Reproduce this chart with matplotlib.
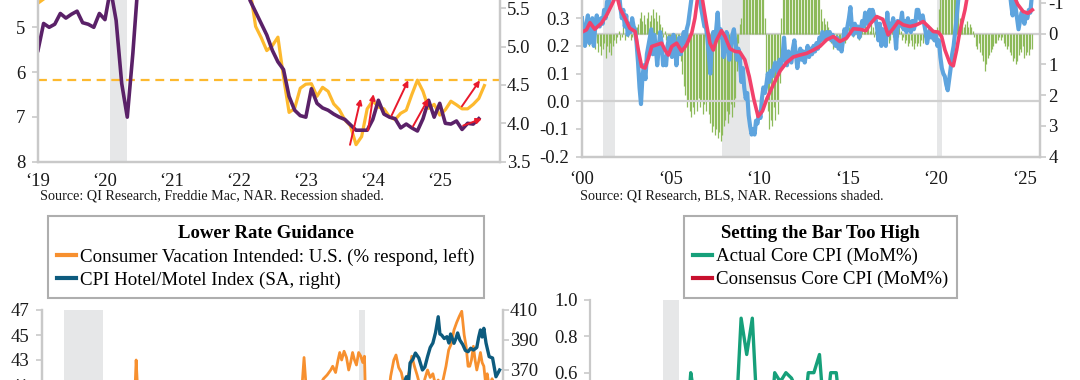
import numpy as np
import matplotlib
matplotlib.use("Agg")
import matplotlib.pyplot as plt

plt.rcParams['font.family'] = ['Liberation Serif', 'DejaVu Serif']
plt.rcParams['axes.unicode_minus'] = False

W, H = 1080, 380

# ---------------- top left: mortgage rate vs existing home sales ----------------
tl_months = np.arange(2019, 2025.75, 1 / 12)
mort_rate = [4.46, 4.37, 4.27, 4.14, 4.07, 3.80, 3.77, 3.62, 3.61, 3.69, 3.70, 3.72,
             3.62, 3.47, 3.45, 3.31, 3.23, 3.16, 3.02, 2.94, 2.89, 2.83, 2.77, 2.68,
             2.74, 2.81, 3.08, 3.06, 2.96, 2.98, 2.87, 2.84, 2.90, 3.07, 3.07, 3.10,
             3.45, 3.76, 4.17, 4.98, 5.23, 5.52, 5.41, 5.22, 6.11, 6.90, 6.81, 6.36,
             6.27, 6.26, 6.54, 6.34, 6.43, 6.71, 6.84, 7.07, 7.20, 7.62, 7.44, 6.82,
             6.64, 6.78, 6.82, 7.00, 7.06, 6.92, 6.85, 6.50, 6.18, 6.43, 6.81, 6.72,
             6.96, 6.84, 6.65, 6.73, 6.82, 6.82, 6.72, 6.59, 6.30]
home_sales = [4.95, 5.30, 5.25, 5.29, 5.43, 5.37, 5.42, 5.46, 5.31, 5.29, 5.25, 5.43,
              5.35, 5.75, 5.34, 4.52, 4.08, 4.91, 5.90, 6.00, 6.50, 6.85, 6.70, 6.75,
              6.65, 6.20, 6.00, 5.85, 5.80, 5.86, 6.00, 5.90, 6.30, 6.30, 6.45, 6.20,
              6.40, 6.00, 5.60, 5.45, 5.30, 5.15, 4.95, 4.80, 4.70, 4.35, 4.17, 4.10,
              4.08, 4.45, 4.26, 4.20, 4.17, 4.12, 4.08, 4.05, 3.98, 3.91, 3.91, 3.91,
              4.05, 4.30, 4.12, 4.08, 4.06, 3.94, 3.99, 3.94, 3.90, 4.06, 4.30, 4.08,
              4.26, 4.00, 3.99, 4.03, 3.92, 4.00, 3.99, 4.06]
rate_ref = 6.18
# (start year, start sales) -> (end year, end sales)
arrows = [((2023.66, 3.72), (2023.82, 4.32)),
          ((2023.93, 3.91), (2024.01, 4.38)),
          ((2024.28, 4.10), (2024.53, 4.56)),
          ((2024.60, 3.96), (2024.83, 4.32)),
          ((2025.33, 4.22), (2025.60, 4.56)),
          ((2025.35, 3.97), (2025.63, 4.06))]
tl_years = list(range(2019, 2026))
tl_left_ticks = [5, 6, 7, 8]
tl_right_ticks = [3.5, 4.0, 4.5, 5.0, 5.5]

# ---------------- top right ----------------
tr_months = np.arange(2000, 2025.5, 1 / 12)
tr_blue = [0.30, 0.22, 0.20, 0.28, 0.31, 0.21, 0.26, 0.30, 0.20, 0.27, 0.31, 0.28,
           0.27, 0.30, 0.28, 0.33, 0.30, 0.36, 0.34, 0.38, 0.40, 0.37, 0.42, 0.45,
           0.42, 0.40, 0.34, 0.30, 0.33, 0.27, 0.31, 0.24, 0.28, 0.25, 0.30, 0.27,
           0.26, 0.21, 0.14, 0.05, -0.01, 0.09, 0.13, 0.08, 0.17, 0.20, 0.23, 0.26,
           0.17, 0.24, 0.20, 0.13, 0.19, 0.25, 0.21, 0.13, 0.16, 0.13, 0.20, 0.23,
           0.19, 0.16, 0.24, 0.21, 0.13, 0.19, 0.23, 0.17, 0.22, 0.25, 0.21, 0.26,
           0.28, 0.32, 0.36, 0.41, 0.44, 0.47, 0.43, 0.40, 0.36, 0.33, 0.30, 0.27,
           0.27, 0.23, 0.17, 0.10, 0.20, 0.25, 0.22, 0.26, 0.32, 0.23, 0.26, 0.24,
           0.16, 0.22, 0.25, 0.18, 0.15, 0.20, 0.24, 0.26, 0.21, 0.15, 0.19, 0.16,
           0.07, 0.12, 0.05, 0.01, 0.03, -0.05, -0.09, -0.12, -0.10, -0.12, -0.07, -0.08,
           -0.04, -0.06, 0.01, 0.05, 0.03, 0.06, 0.10, 0.07, 0.11, 0.09, 0.12, 0.14,
           0.12, 0.10, 0.15, 0.13, 0.16, 0.23, 0.15, 0.13, 0.18, 0.16, 0.14, 0.19,
           0.22, 0.17, 0.12, 0.16, 0.19, 0.15, 0.18, 0.14, 0.17, 0.20, 0.16, 0.19,
           0.17, 0.20, 0.18, 0.21, 0.19, 0.23, 0.22, 0.25, 0.24, 0.22, 0.25, 0.23,
           0.25, 0.22, 0.24, 0.21, 0.20, 0.23, 0.19, 0.21, 0.18, 0.22, 0.26, 0.24,
           0.27, 0.30, 0.34, 0.27, 0.24, 0.28, 0.25, 0.27, 0.23, 0.26, 0.29, 0.27,
           0.32, 0.28, 0.30, 0.33, 0.29, 0.33, 0.31, 0.30, 0.27, 0.22, 0.28, 0.20,
           0.26, 0.22, 0.20, 0.32, 0.24, 0.28, 0.27, 0.30, 0.26, 0.19, 0.29, 0.27,
           0.28, 0.32, 0.26, 0.29, 0.25, 0.30, 0.27, 0.25, 0.29, 0.26, 0.28, 0.33,
           0.33, 0.30, 0.29, 0.31, 0.28, 0.25, 0.21, 0.24, 0.26, 0.23, 0.25, 0.22,
           0.24, 0.20, 0.22, 0.16, 0.12, 0.10, 0.09, 0.06, 0.04, 0.08, 0.12, 0.17,
           0.20, 0.25, 0.30, 0.36, 0.42, 0.48, 0.52, 0.56, 0.60, 0.62, 0.64, 0.62,
           0.60, 0.62, 0.65, 0.63, 0.60, 0.62, 0.64, 0.61, 0.58, 0.60, 0.57, 0.59,
           0.56, 0.58, 0.55, 0.53, 0.55, 0.52, 0.50, 0.52, 0.49, 0.50, 0.47, 0.48,
           0.46, 0.44, 0.40, 0.35, 0.31, 0.36, 0.34, 0.30, 0.26, 0.29, 0.32, 0.30,
           0.28, 0.31, 0.30, 0.33, 0.32, 0.38]
tr_pink_x = [2000.00, 2000.25, 2000.45, 2000.72, 2001.10, 2001.40, 2001.68, 2001.95,
             2002.15, 2002.43, 2002.70, 2003.00, 2003.18, 2003.37, 2003.56, 2003.75,
             2003.94, 2004.22, 2004.50, 2004.69, 2004.88, 2005.07, 2005.35, 2005.63,
             2005.91, 2006.20, 2006.38, 2006.57, 2006.76, 2006.90, 2007.04, 2007.23,
             2007.42, 2007.60, 2007.88, 2008.08, 2008.36, 2008.65, 2008.92, 2009.20,
             2009.45, 2009.70, 2009.95, 2010.20, 2010.45, 2010.70, 2010.95, 2011.20,
             2011.56, 2011.94, 2012.31, 2012.69, 2013.07, 2013.44, 2013.82, 2014.20,
             2014.57, 2014.95, 2015.33, 2015.70, 2016.05, 2016.30, 2016.65, 2017.00,
             2017.30, 2017.60, 2017.87, 2018.15, 2018.53, 2018.90, 2019.28, 2019.57,
             2019.85, 2020.13, 2020.32, 2020.51, 2020.79, 2020.98, 2021.17, 2021.35,
             2021.64, 2021.83, 2022.20, 2022.60, 2023.00, 2023.50, 2024.00, 2024.35,
             2024.62, 2024.93, 2025.20, 2025.45]
tr_pink = [0.250, 0.258, 0.284, 0.260, 0.282, 0.312, 0.348, 0.385,
           0.335, 0.300, 0.264, 0.252, 0.186, 0.125, 0.120, 0.155,
           0.198, 0.204, 0.210, 0.185, 0.167, 0.198, 0.210, 0.180,
           0.204, 0.246, 0.300, 0.390, 0.385, 0.330, 0.276, 0.210,
           0.185, 0.220, 0.255, 0.234, 0.190, 0.180, 0.178, 0.150,
           0.090, 0.010, -0.055, -0.035, 0.010, 0.045, 0.078, 0.110,
           0.140, 0.160, 0.167, 0.173, 0.185, 0.198, 0.222, 0.234,
           0.216, 0.228, 0.262, 0.260, 0.255, 0.280, 0.306, 0.296,
           0.240, 0.264, 0.288, 0.276, 0.270, 0.276, 0.288, 0.270,
           0.252, 0.250, 0.234, 0.185, 0.137, 0.128, 0.185, 0.252,
           0.330, 0.400, 0.520, 0.600, 0.580, 0.520, 0.450, 0.390,
           0.350, 0.324, 0.318, 0.330]
tr_green = [0.1, 0.2, 0.0, 0.3, 0.2, 0.4, 0.3, 0.2, 0.4, 0.5, 0.3, 0.6,
            0.4, 0.7, 0.5, 0.3, 0.8, 0.4, 0.6, 0.3, 0.7, 0.4, 0.2, 0.3,
            0.1, -0.1, 0.2, 0.1, -0.2, 0.2, 0.0, 0.1, -0.1, 0.2, 0.1, 0.0,
            -0.1, -0.2, -0.3, -0.5, -0.7, -0.4, -0.6, -0.3, -0.5, -0.7, -0.4, -0.6,
            -0.8, -0.5, -0.7, -0.4, -0.6, -0.3, -0.2, 0.1, -0.1, 0.2, 0.1, 0.3,
            0.3, 0.2, 0.4, 0.3, 0.5, 0.4, 0.6, 0.9, 1.3, 1.7, 2.0, 2.4,
            2.2, 2.5, 2.7, 2.4, 2.6, 2.2, 2.5, 2.1, 2.4, 2.2, 2.6, 2.3,
            2.5, 2.2, 2.6, 2.9, 3.2, 3.0, 3.3, 3.1, 3.4, 3.2, 3.5, 3.3,
            3.0, 2.8, 2.5, 2.9, 2.6, 2.3, 2.7, 2.4, 2.1, 1.2, 0.3, -0.3,
            -0.5, -1.5, -2.5, -3.0, -3.5, -3.0, -2.5, -2.8, -3.0, -2.5, -2.0, -1.8,
            -1.5, -1.8, -1.2, -1.5, -0.5, 1.5, 2.5, 3.1, 2.8, 3.0, 2.4, 2.8,
            2.2, 2.6, 1.6, -0.5, -1.5, -2.5, -3.0, -3.5, -3.0, -3.2, -2.8, -3.5,
            -3.0, -3.4, -3.0, -2.8, -3.3, -3.0, -2.6, -3.1, -2.7, -3.0, -2.5, -2.8,
            -2.2, -2.6, -2.0, -1.8, -1.5, -1.2, -0.8, -0.4, -0.5, -0.3, -0.4, -0.2,
            0.2, 0.3, 0.5, 0.4, 0.2, 0.5, 0.3, 0.4, 0.2, 0.1, 0.3, 0.2,
            -0.1, -0.2, -0.3, -0.1, 0.1, -0.2, -0.3, -0.1, 0.2, 0.1, -0.2, -0.1,
            -0.3, -0.2, -0.4, -0.1, -0.3, -0.2, 0.1, -0.1, 0.2, 0.1, 0.3, 0.2,
            0.3, 0.2, 0.4, 0.1, 0.3, 0.2, -0.1, 0.1, -0.2, -0.1, 0.1, -0.2,
            -0.1, 0.2, 0.1, 0.3, 0.2, 0.4, 0.3, 0.2, 0.4, 0.5, 0.3, 0.4,
            0.3, 0.4, 0.2, 0.3, 0.1, 0.2, 0.0, -0.1, 0.1, 0.2, 0.1, 0.2,
            0.1, -0.2, -0.8, -1.5, -2.5, -3.0, -3.5, -3.0, -2.8, -3.2, -2.5, -2.8,
            -3.0, -2.5, -2.0, -1.5, -0.5, -0.3, -0.4, -0.2, -0.3, -0.4, -0.2, -0.3,
            -0.2, -0.1, 0.1, 0.4, 0.5, 0.3, 0.6, 0.7, 0.9, 1.2, 1.0, 0.8,
            0.7, 0.6, 0.5, 0.4, 0.3, 0.3, 0.2, 0.1, 0.2, 0.1, 0.3, 0.4,
            0.5, 0.4, 0.6, 0.7, 0.9, 0.8, 1.0, 0.9, 0.7, 0.5, 0.6, 0.4,
            0.8, 0.7, 0.6, 0.7, 0.5, 0.5]
tr_years = list(range(2000, 2026, 5))
tr_left_ticks = [-0.2, -0.1, 0.0, 0.1, 0.2, 0.3]
tr_right_ticks = [-1, 0, 1, 2, 3, 4]

# ---------------- bottom left: Lower Rate Guidance ----------------
vac_x = [2007.0, 2008.0, 2009.0, 2010.0, 2010.8, 2010.88, 2010.97, 2012.0, 2013.0,
         2014.0, 2015.0, 2016.0, 2016.9, 2017.15, 2017.25, 2017.4, 2017.55, 2017.72,
         2017.8, 2017.88, 2018.0, 2018.2, 2018.4, 2018.6, 2018.75, 2018.9, 2018.98,
         2019.1, 2019.2, 2019.27, 2019.35, 2019.45, 2019.55, 2019.64, 2019.72, 2019.8,
         2019.88, 2019.96, 2020.05, 2020.14, 2020.22, 2020.29, 2020.4, 2020.8, 2021.1,
         2021.3, 2021.37, 2021.5, 2021.59, 2021.7, 2021.81, 2021.92, 2022.02, 2022.13,
         2022.24, 2022.35, 2022.46, 2022.57, 2022.68, 2022.78, 2022.89, 2023.0, 2023.11,
         2023.22, 2023.33, 2023.44, 2023.54, 2023.65, 2023.76, 2023.87, 2023.98, 2024.09,
         2024.2, 2024.3, 2024.4, 2024.48, 2024.56, 2024.63, 2024.7, 2024.78, 2024.85,
         2024.92, 2025.0, 2025.07, 2025.14, 2025.21, 2025.28, 2025.35, 2025.45, 2025.55,
         2025.65, 2025.75]
vac_pct = [38.5, 38.0, 36.5, 37.5, 39.0, 43.0, 39.5, 38.5, 39.0,
           39.0, 39.5, 39.8, 40.5, 41.3, 40.6, 41.2, 40.5, 41.0,
           43.2, 41.0, 40.6, 41.0, 40.8, 41.5, 41.8, 42.2, 42.5,
           42.0, 43.0, 43.6, 43.0, 43.7, 43.2, 42.2, 42.8, 43.6,
           43.0, 42.6, 43.6, 43.3, 42.8, 43.3, 35.0, 34.0, 37.0,
           40.5, 41.7, 43.0, 43.4, 42.4, 42.0, 41.0, 41.4, 42.0,
           43.3, 42.5, 41.8, 41.0, 40.6, 41.5, 42.2, 41.6, 41.9,
           41.0, 41.4, 40.8, 41.5, 42.5, 43.8, 44.3, 45.4, 46.0,
           46.5, 46.9, 45.0, 44.1, 42.5, 42.5, 43.0, 44.1, 43.0,
           42.2, 42.9, 43.6, 42.8, 42.5, 41.2, 41.9, 40.6, 41.5,
           40.5, 39.8]
hotel_x = [2007.0, 2012.0, 2016.0, 2019.0, 2020.4, 2021.0, 2021.5, 2021.85, 2022.02,
           2022.1, 2022.17, 2022.28, 2022.39, 2022.53, 2022.68, 2022.78, 2022.89, 2023.0,
           2023.11, 2023.22, 2023.33, 2023.4, 2023.47, 2023.58, 2023.69, 2023.77, 2023.84,
           2023.98, 2024.06, 2024.13, 2024.22, 2024.34, 2024.45, 2024.56, 2024.67, 2024.78,
           2024.92, 2025.0, 2025.07, 2025.14, 2025.21, 2025.3, 2025.43, 2025.57, 2025.71,
           2025.86]
hotel_idx = [325, 315, 330, 340, 290, 320, 345, 358, 365.5,
             360, 374.7, 377, 381.3, 378, 370, 372, 378.9, 385,
             388, 395, 405.5, 394, 393.3, 391, 392.2, 388, 394,
             387.8, 391, 394.7, 390, 387, 383, 382.2, 384.5, 383.3,
             385, 392, 396.7, 392, 397.8, 388, 378.9, 378, 365.5,
             370]
bl_left_ticks = [41, 43, 45, 47]
bl_right_ticks = [370, 390, 410]

# ---------------- bottom right: Setting the Bar Too High ----------------
br_months = np.arange(2019, 2025.6, 1 / 12)
core_actual = [0.2, 0.1, 0.1, 0.1, 0.1, 0.3, 0.3, 0.1, 0.1, 0.2, 0.2, 0.1,
               0.2, 0.2, -0.1, -0.4, -0.1, 0.2, 0.6, 0.4, 0.2, 0.0, 0.2, 0.1,
               0.0, 0.1, 0.3, 0.9, 0.7, 0.9, 0.3, 0.1, 0.2, 0.6, 0.55, 0.6,
               0.57, 0.5, 0.3, 0.6, 0.6, 0.7, 0.3, 0.6, 0.6, 0.3, 0.2, 0.4,
               0.4, 0.5, 0.4, 0.4, 0.4, 0.2, 0.2, 0.3, 0.3, 0.2, 0.3, 0.3,
               0.4, 0.4, 0.4, 0.3, 0.2, 0.1, 0.2, 0.3, 0.3, 0.3, 0.3, 0.2,
               0.4, 0.2, 0.1, 0.2, 0.1, 0.2, 0.3, 0.3]
core_consensus = [0.2, 0.2, 0.2, 0.2, 0.2, 0.2, 0.2, 0.2, 0.2, 0.2, 0.2, 0.2,
                  0.2, 0.2, 0.2, -0.2, 0.0, 0.1, 0.2, 0.2, 0.2, 0.2, 0.2, 0.1,
                  0.2, 0.2, 0.2, 0.3, 0.5, 0.4, 0.4, 0.3, 0.3, 0.4, 0.5, 0.5,
                  0.5, 0.5, 0.5, 0.4, 0.5, 0.5, 0.5, 0.3, 0.4, 0.5, 0.5, 0.3,
                  0.4, 0.4, 0.4, 0.4, 0.4, 0.4, 0.2, 0.2, 0.3, 0.3, 0.3, 0.3,
                  0.3, 0.3, 0.3, 0.3, 0.3, 0.2, 0.2, 0.2, 0.2, 0.3, 0.3, 0.3,
                  0.3, 0.3, 0.3, 0.3, 0.3, 0.3, 0.3, 0.3]
br_left_ticks = [0.6, 0.8, 1.0]

recessions = [(2001.17, 2001.87), (2007.92, 2009.5), (2020.08, 2020.33)]

SHADE = '#e6e7e8'
SPINE = '#c9c9c9'
TXT = '#1a1a1a'
TICK_FS = 13.5
LEG_FS = 13.6
TITLE_FS = 13.5


def box(l, r, t, b):
    return [l / W, 1 - b / H, (r - l) / W, (b - t) / H]


def style(ax, show=('left', 'right', 'bottom'), xpad=5):
    for side, sp in ax.spines.items():
        sp.set_visible(side in show)
        sp.set_color(SPINE)
        sp.set_linewidth(1.6)
    ax.tick_params(colors=SPINE, labelcolor=TXT, labelsize=TICK_FS, length=4, width=1.2)
    ax.tick_params(axis='x', length=0, pad=xpad)


def yrlab(y):
    return '\u2018' + str(y)[2:]


def add_legend(handles, labels, title, x, y):
    leg = fig.legend(handles, labels, title=title, loc='upper left',
                     bbox_to_anchor=(x / W, 1 - y / H), fontsize=LEG_FS,
                     title_fontproperties={'weight': 'bold', 'size': TITLE_FS},
                     frameon=True, fancybox=False, edgecolor='#9a9a9a',
                     handlelength=1.0, handletextpad=0.2, borderpad=0.5,
                     labelspacing=0.3, borderaxespad=0)
    leg.get_frame().set_linewidth(1.5)
    for h in leg.get_lines():
        h.set_linewidth(3)
    return leg


fig = plt.figure(figsize=(W / 100, H / 100), dpi=100)

# ---- top left
ax1 = fig.add_axes(box(38, 500, 161.7 - 6 * 44.8, 161.7))
ax1r = ax1.twinx()
for a, b in recessions:
    ax1.axvspan(a, b, color=SHADE, lw=0)
ax1.axhline(rate_ref, color='#fdb92e', lw=1.6, ls=(0, (4, 2.6)))
ax1.plot(tl_months[:len(mort_rate)], mort_rate, color='#fdb92e', lw=2.3)
ax1r.plot(tl_months[:len(home_sales)], home_sales, color='#5a2168', lw=2.6)
for (x0, y0), (x1, y1) in arrows:
    ax1r.annotate('', xy=(x1, y1), xytext=(x0, y0),
                  arrowprops=dict(arrowstyle='-|>', color='#e8192c', lw=1.4,
                                  mutation_scale=8, shrinkA=0, shrinkB=0))
ax1.set_xlim(2019, 2025.9)
ax1.set_ylim(8, 2)
ax1.set_yticks(tl_left_ticks)
ax1r.set_ylim(3.5, 7.0)
ax1r.set_yticks(tl_right_ticks)
ax1r.set_yticklabels(['%.1f' % v for v in tl_right_ticks])
ax1.set_xticks(tl_years)
ax1.set_xticklabels([yrlab(y) for y in tl_years])
style(ax1, xpad=8)
style(ax1r, xpad=8)
ax1.tick_params(axis='y', pad=5)
ax1r.tick_params(axis='y', pad=1)
fig.text(40 / W, 1 - 196 / H, 'Source: QI Research, Freddie Mac, NAR. Recession shaded.',
         fontsize=10.2, color=TXT, va='center')

# ---- top right
ax2 = fig.add_axes(box(582, 1040, 156.7 - 277, 156.7))
ax2r = ax2.twinx()
ax2.set_zorder(ax2r.get_zorder() + 1)
ax2.patch.set_visible(False)
for a, b in recessions:
    ax2r.axvspan(a, b, color=SHADE, lw=0)
ax2r.axhline(0, color='#d0d0d0', lw=1.6)
ax2.axhline(0, color='#d0d0d0', lw=1.6)
ax2r.vlines(tr_months[:len(tr_green)], 0, tr_green, color='#8dba5a', lw=0.9)
ax2.plot(tr_months[:len(tr_blue)], tr_blue, color='#5ea4de', lw=3.0)
ax2.plot(tr_pink_x, tr_pink, color='#f2416b', lw=2.6)
ax2.set_xlim(2000, 2025.88)
ax2.set_ylim(-0.2, 0.8)
ax2.set_yticks(tr_left_ticks)
ax2.set_yticklabels(['%.1f' % v for v in tr_left_ticks])
ax2r.set_ylim(4, -5)
ax2r.set_yticks(tr_right_ticks)
ax2.set_xticks(tr_years)
ax2.set_xticklabels([yrlab(y) for y in tr_years])
style(ax2, xpad=10)
style(ax2r, xpad=10)
ax2.tick_params(axis='y', pad=5)
ax2r.tick_params(axis='y', pad=2)
fig.text(580 / W, 1 - 196 / H, 'Source: QI Research, BLS, NAR. Recessions shaded.',
         fontsize=10.2, color=TXT, va='center')

# ---- bottom left
ax3 = fig.add_axes(box(42, 503, 310, 460))
ax3r = ax3.twinx()
for a, b in recessions[1:]:
    ax3.axvspan(a, b, color=SHADE, lw=0)
l1, = ax3.plot(vac_x, vac_pct, color='#f7902f', lw=2.0)
l2, = ax3r.plot(hotel_x, hotel_idx, color='#0d5b7e', lw=2.4)
ax3.set_xlim(2007, 2026)
ax3.set_ylim(35, 47)
ax3.set_yticks(bl_left_ticks)
ax3r.set_ylim(310, 410)
ax3r.set_yticks(bl_right_ticks)
ax3.set_xticks([])
style(ax3, show=('left', 'right'))
style(ax3r, show=('left', 'right'))
ax3.tick_params(axis='y', pad=5)
ax3r.tick_params(axis='y', pad=1)
add_legend([l1, l2], ['Consumer Vacation Intended: U.S. (% respond, left)',
                      'CPI Hotel/Motel Index (SA, right)'],
           'Lower Rate Guidance', 48, 216)

# ---- bottom right
ax4 = fig.add_axes(box(590, 1040, 300, 300 + 1.6 * 181.7))
ax4.axvspan(2020.08, 2020.33, color=SHADE, lw=0)
l3, = ax4.plot(br_months[:len(core_actual)], core_actual, color='#16a07a', lw=2.4)
l4, = ax4.plot(br_months[:len(core_consensus)], core_consensus, color='#c8102e', lw=2.4)
ax4.set_xlim(2019, 2025.7)
ax4.set_ylim(-0.6, 1.0)
ax4.set_yticks(br_left_ticks)
ax4.set_yticklabels(['%.1f' % v for v in br_left_ticks])
ax4.set_xticks([])
style(ax4, show=('left',))
ax4.tick_params(axis='y', pad=5)
add_legend([l3, l4], ['Actual Core CPI (MoM%)', 'Consensus Core CPI (MoM%)'],
           'Setting the Bar Too High', 683.6, 216)

fig.savefig('out.png', dpi=100)
